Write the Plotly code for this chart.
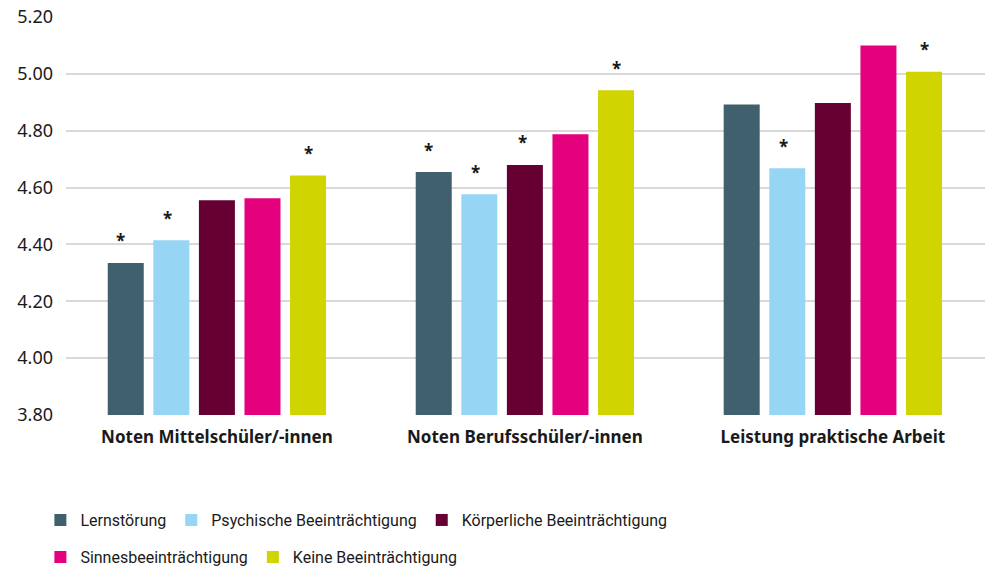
import plotly.graph_objects as go

# categories and series (mean ratings)
categories = ["Noten Mittelschüler/-innen", "Noten Berufsschüler/-innen", "Leistung praktische Arbeit"]
series_names = ["Lernstörung", "Psychische Beeinträchtigung", "Körperliche Beeinträchtigung",
                "Sinnesbeeinträchtigung", "Keine Beeinträchtigung"]
lernstoerung = [4.335, 4.655, 4.893]
psychisch = [4.415, 4.577, 4.668]
koerperlich = [4.556, 4.680, 4.898]
sinne = [4.563, 4.788, 5.100]
keine = [4.643, 4.943, 5.008]
# significance markers (*) per series and category
sig_lern = [True, True, False]
sig_psych = [True, True, True]
sig_koerp = [False, True, False]
sig_sinne = [False, False, False]
sig_keine = [True, True, True]

colors = ['#41606e', '#97d5f5', '#660033', '#e5007d', '#d0d400']
values = [lernstoerung, psychisch, koerperlich, sinne, keine]
sigs = [sig_lern, sig_psych, sig_koerp, sig_sinne, sig_keine]
legend_ids = ['legend', 'legend', 'legend', 'legend2', 'legend2']

BAR_STEP = 47  # px between neighbouring bars inside a group

fig = go.Figure()
n = len(series_names)
for i, (name, vals, sig, color, lg) in enumerate(zip(series_names, values, sigs, colors, legend_ids)):
    fig.add_trace(go.Bar(
        x=categories,
        y=vals,
        name=name,
        marker=dict(color=color, line=dict(width=0)),
        legend=lg,
        hoverinfo='x+y+name',
    ))
    # asterisks above significant bars
    for cat, v, s in zip(categories, vals, sig):
        if s:
            fig.add_annotation(
                x=cat, y=v, text='*', showarrow=False,
                xshift=(i - (n - 1) / 2) * BAR_STEP - 2, yshift=22,
                font=dict(size=17, family='Noto Sans', color='#1a1a1a', weight='bold'),
            )

legend_font = dict(family='Roboto', size=16, color='#1a1a1a')

fig.update_layout(
    width=985,
    height=569,
    margin=dict(l=66, r=0, t=17, b=154),
    paper_bgcolor='white',
    plot_bgcolor='white',
    font=dict(family='Noto Sans', color='#1a1a1a'),
    barmode='group',
    bargap=0.26,
    bargroupgap=0.21,
    showlegend=True,
    legend=dict(orientation='h', xref='container', yref='container',
                x=0.041, y=0.086, xanchor='left', yanchor='middle',
                font=legend_font, traceorder='normal'),
    legend2=dict(orientation='h', xref='container', yref='container',
                 x=0.041, y=0.021, xanchor='left', yanchor='middle',
                 font=legend_font, traceorder='normal'),
)

fig.update_xaxes(
    range=[-0.49, 2.494],
    automargin=False,
    showgrid=False,
    showline=False,
    ticks='',
    ticklabelstandoff=10,
    tickfont=dict(size=17, family='Noto Sans', weight='bold', color='#1a1a1a'),
)
fig.update_yaxes(
    range=[3.8, 5.2005],
    dtick=0.2,
    tick0=3.8,
    tickformat='.2f',
    automargin=False,
    showgrid=True,
    gridcolor='#d9d9d9',
    gridwidth=1.5,
    zeroline=False,
    showline=False,
    ticks='',
    ticklabelstandoff=12,
    tickfont=dict(size=18, family='Noto Sans', color='#1a1a1a'),
)

# drop the default body margin so the figure sits at the page corner
fig.write_html("out.html", config={'displayModeBar': False},
               post_script="document.body.style.margin = '0';")
